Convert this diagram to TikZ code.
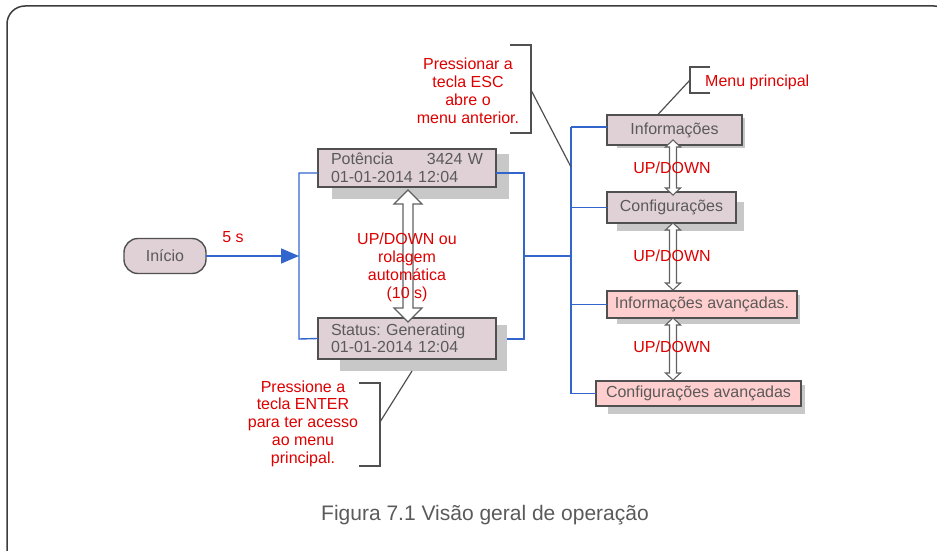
\documentclass[tikz,border=0pt]{standalone}
\usepackage{fontspec}
\setmainfont{Liberation Sans}
\usetikzlibrary{arrows.meta}
\frenchspacing
\definecolor{myred}{RGB}{221,0,0}
\definecolor{myblue}{RGB}{51,102,204}
\definecolor{boxline}{RGB}{80,80,80}
\definecolor{txtgray}{RGB}{90,90,90}
\definecolor{shadowgray}{RGB}{200,200,200}
\definecolor{mauve}{RGB}{224,209,215}
\definecolor{pinkfill}{RGB}{255,206,206}
\definecolor{framecol}{RGB}{60,60,60}
\newcommand\hollowarrow[6]{%
\draw[dblstyle] (#1,#2) -- ({#1+#5},{#2+#6}) -- ({#1+#4},{#2+#6}) -- ({#1+#4},{#3-#6}) -- ({#1+#5},{#3-#6}) -- (#1,#3) -- ({#1-#5},{#3-#6}) -- ({#1-#4},{#3-#6}) -- ({#1-#4},{#2+#6}) -- ({#1-#5},{#2+#6}) -- cycle;}
\begin{document}
\frenchspacing
\begin{tikzpicture}[x=1pt,y=-1pt,
  box/.style={draw=boxline, line width=1.4pt, fill=mauve, text=txtgray,
    font=\fontsize{16}{17.5}\selectfont\frenchspacing, inner sep=0pt, outer sep=0pt},
  pinkbox/.style={box, fill=pinkfill},
  blueline/.style={draw=myblue, line width=1.4pt},
  calloutline/.style={draw=boxline, line width=1.2pt},
  redtext/.style={text=myred, font=\fontsize{16}{18}\selectfont, inner sep=0pt, align=center},
  dblstyle/.style={draw=boxline!90, fill=white, line width=1.1pt, line join=miter},
  shadowfill/.style={fill=shadowgray}]
\useasboundingbox (0,0) rectangle (937,551);
% frame
\draw[framecol, line width=1.5pt, rounded corners=18pt] (7,6) rectangle (952,572);
% shadows
\fill[shadowfill] (332,154) rectangle (509,199);
\fill[shadowfill] (340,325) rectangle (507,371);
\fill[shadowfill] (617,118) rectangle (745,148);
\fill[shadowfill] (617,202) rectangle (744,231);
\fill[shadowfill] (617,295) rectangle (800,324);
\fill[shadowfill] (608,385) rectangle (805,414);
% nodes
\node[box, rounded corners=14pt, minimum width=82pt, minimum height=35pt] (ini) at (165,256) {Início};
\node[box, minimum width=178pt, minimum height=38pt, text width=152pt, align=left] (pot) at (407,168)
  {Potência\hfill 3424 W\\01-01-2014 12:04};
\node[box, minimum width=178pt, minimum height=41pt, text width=152pt, align=left] (sta) at (407,338.5)
  {Status: Generating\\01-01-2014 12:04};
\node[box, minimum width=135pt, minimum height=30pt] (inf) at (674.5,130) {Informações};
\node[box, minimum width=129pt, minimum height=31pt] (conf) at (671.5,207.5) {Configurações};
\node[pinkbox, minimum width=190pt, minimum height=27pt] (infav) at (702,304.5) {Informações avançadas.};
\node[pinkbox, minimum width=205pt, minimum height=25pt] (confav) at (698.5,393.5) {Configurações avançadas};
% coordinates
\coordinate (j1) at (299,256);
\coordinate (lt) at (299,173);
\coordinate (lb) at (299,339);
\coordinate (rt) at (524,173);
\coordinate (rm) at (524,256);
\coordinate (rb) at (524,339);
\coordinate (stashadow) at (507,339);
\coordinate (trm) at (571,256);
\coordinate (trtop) at (571,127);
\coordinate (trbot) at (571,393.5);
% blue connectors
\draw[blueline, -{Triangle[length=18pt,width=15pt]}] (ini.east) -- (j1);
\draw[blueline] ([yshift=-5pt]pot.west) -- (lt) -- (lb) -- (sta.west);
\draw[blueline] ([yshift=-5pt]pot.east) -- (rt) -- (rb) -- (stashadow);
\draw[blueline] (rm) -- (trm);
\draw[blueline] (trtop) -- (trbot);
\draw[blueline] (trtop) -- ([yshift=3pt]inf.west);
\draw[blueline] (conf.west -| trtop) -- (conf.west);
\draw[blueline] (infav.west -| trtop) -- (infav.west);
\draw[blueline] (confav.west -| trtop) -- (confav.west);
% hollow double arrows
\hollowarrow{408}{190}{322}{5}{14}{14}
\hollowarrow{673}{140}{195}{3.5}{7.5}{7}
\hollowarrow{673}{223}{290}{3.5}{7.5}{7}
\hollowarrow{673}{318}{380}{3.5}{7.5}{7}
% labels
\node[redtext] (fives) at (233,237) {5 s};
\node[redtext] (midtxt) at (407,267) {UP/DOWN ou\\rolagem\\automática\\(10 s)};
\node[redtext] (ud1) at (672,168) {UP/DOWN};
\node[redtext] (ud2) at (672,256) {UP/DOWN};
\node[redtext] (ud3) at (672,347) {UP/DOWN};
% callouts
\coordinate (escT) at (510,45);
\coordinate (escTR) at (531,45);
\coordinate (escBR) at (531,133);
\coordinate (escB) at (510,133);
\coordinate (escM) at (531,90);
\coordinate (escP) at (571,167);
\draw[calloutline] (escT) -- (escTR) -- (escBR) -- (escB);
\draw[calloutline] (escM) -- (escP);
\node[redtext] (esctxt) at (468,91) {Pressionar a\\tecla ESC\\abre o\\menu anterior.};
\coordinate (mpT) at (710,67);
\coordinate (mpTL) at (690,67);
\coordinate (mpBL) at (690,93);
\coordinate (mpB) at (710,93);
\coordinate (mpM) at (690,80);
\draw[calloutline] (mpT) -- (mpTL) -- (mpBL) -- (mpB);
\draw[calloutline] (mpM) -- ([xshift=-17pt]inf.north);
\node[redtext, anchor=west] (mptxt) at (705,82) {Menu principal};
\coordinate (enT) at (359,383);
\coordinate (enTR) at (380,383);
\coordinate (enBR) at (380,466);
\coordinate (enB) at (359,466);
\coordinate (enM) at (380,422);
\coordinate (enP) at (412,371);
\draw[calloutline] (enT) -- (enTR) -- (enBR) -- (enB);
\draw[calloutline] (enM) -- (enP);
\node[redtext, font=\fontsize{16}{17.8}\selectfont] (entxt) at (303,423.5) {Pressione a\\tecla ENTER\\para ter acesso\\ao menu\\principal.};
% caption
\node[text=txtgray, font=\fontsize{21}{24}\selectfont, inner sep=0pt] (cap) at (485,515) {Figura 7.1 Visão geral de operação};
\end{tikzpicture}
\end{document}
